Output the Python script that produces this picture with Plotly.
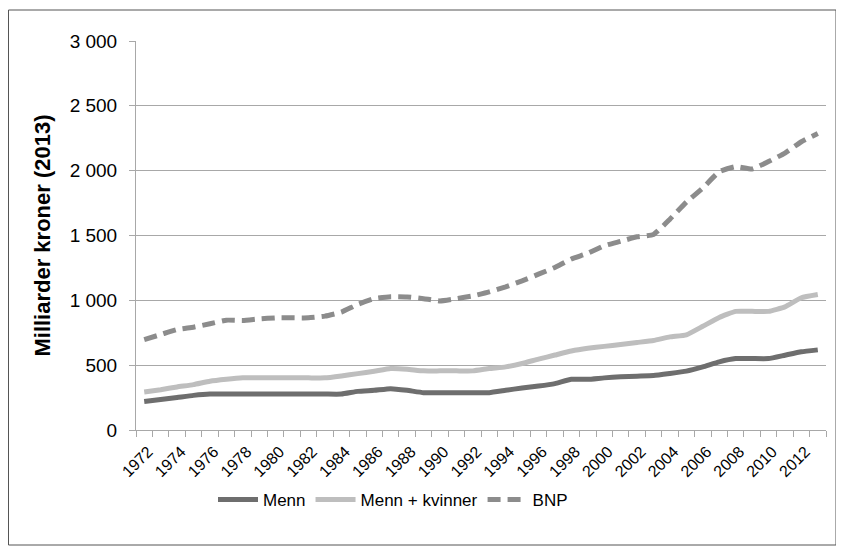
import plotly.graph_objects as go

# data (milliarder kroner, 2013-kroner)
years = list(range(1972, 2014))

menn = [220, 236, 251, 267, 277, 277, 277, 277, 277, 277, 277, 277, 277,
        298, 306, 319, 306, 288, 288, 288, 288, 288, 306, 324, 339, 358,
        391, 391, 402, 410, 415, 420, 436, 454, 487, 526, 551, 551, 551,
        577, 603, 618]

menn_kvinner = [293, 311, 332, 350, 376, 391, 402, 402, 402, 402, 402, 402,
                417, 435, 453, 474, 469, 456, 456, 456, 456, 474, 487, 513,
                547, 578, 609, 630, 645, 660, 675, 690, 718, 734, 800, 868,
                915, 915, 915, 950, 1020, 1045]

bnp = [697, 736, 775, 793, 819, 847, 845, 857, 865, 865, 865, 878, 909, 969,
       1013, 1028, 1026, 1013, 995, 1013, 1034, 1065, 1104, 1150, 1202, 1254,
       1319, 1363, 1421, 1455, 1490, 1508, 1626, 1757, 1866, 1992, 2031, 2013,
       2070, 2136, 2223, 2287]

series_names = ["Menn", "Menn + kvinner", "BNP"]
y_title = "Milliarder kroner (2013)"

label_years = years[::2]
boundaries = [y - 0.5 for y in years] + [years[-1] + 0.5]

font = "Liberation Sans, Arial, sans-serif"
grid = "#a8a8a8"

# the page body has an 8px margin, so the figure is a bit smaller than the window
W, H = 836, 541
L, R, T, B = 128, 18, 33, 119
pw, ph = W - L - R, H - T - B

fig = go.Figure()
fig.add_trace(go.Scatter(x=years, y=menn, name=series_names[0], mode="lines",
                         line=dict(color="#6e6e6e", width=5, shape="spline", smoothing=0.4)))
fig.add_trace(go.Scatter(x=years, y=menn_kvinner, name=series_names[1], mode="lines",
                         line=dict(color="#bebebe", width=5, shape="spline", smoothing=0.4)))
fig.add_trace(go.Scatter(x=years, y=bnp, name=series_names[2], mode="lines",
                         line=dict(color="#8c8c8c", width=5, dash="13px,7px",
                                   shape="spline", smoothing=0.4)))

fig.update_layout(
    width=W, height=H,
    margin=dict(l=L, r=R, t=T, b=B, pad=0),
    paper_bgcolor="white", plot_bgcolor="white",
    font=dict(family=font, size=19, color="black"),
    separators=", ",
    showlegend=True,
    legend=dict(orientation="h", x=(205 - L) / pw, xanchor="left",
                y=(H - B - 492) / ph, yanchor="middle",
                font=dict(size=17), itemwidth=40, tracegroupgap=0),
)

fig.update_xaxes(
    range=[years[0] - 0.5, years[-1] + 0.5],
    tickmode="array", tickvals=label_years, ticktext=[str(y) for y in label_years],
    tickangle=-45, ticks="", showgrid=False, zeroline=False,
    showline=True, linecolor=grid, linewidth=1,
    tickfont=dict(size=16), ticklabelstandoff=5, ticklabelshift=4,
    minor=dict(tickmode="array", tickvals=boundaries, ticks="outside",
               ticklen=6, tickcolor=grid, showgrid=False),
)

fig.update_yaxes(
    range=[0, 3000], dtick=500, tickformat=",",
    ticks="outside", ticklen=6, tickcolor=grid, ticklabelstandoff=8,
    showgrid=True, gridcolor=grid, gridwidth=1, zeroline=False,
    showline=True, linecolor=grid, linewidth=1,
    title=dict(text="<b>" + y_title + "</b>", font=dict(size=22), standoff=12),
)

# outer frame around the whole chart
fig.add_shape(type="rect", xref="paper", yref="paper",
              x0=(0.5 - L) / pw, x1=(828 - L) / pw,
              y0=(H - B - 537) / ph, y1=(H - B - 2) / ph,
              line=dict(color="#555555", width=1))

fig.write_html("out.html")
